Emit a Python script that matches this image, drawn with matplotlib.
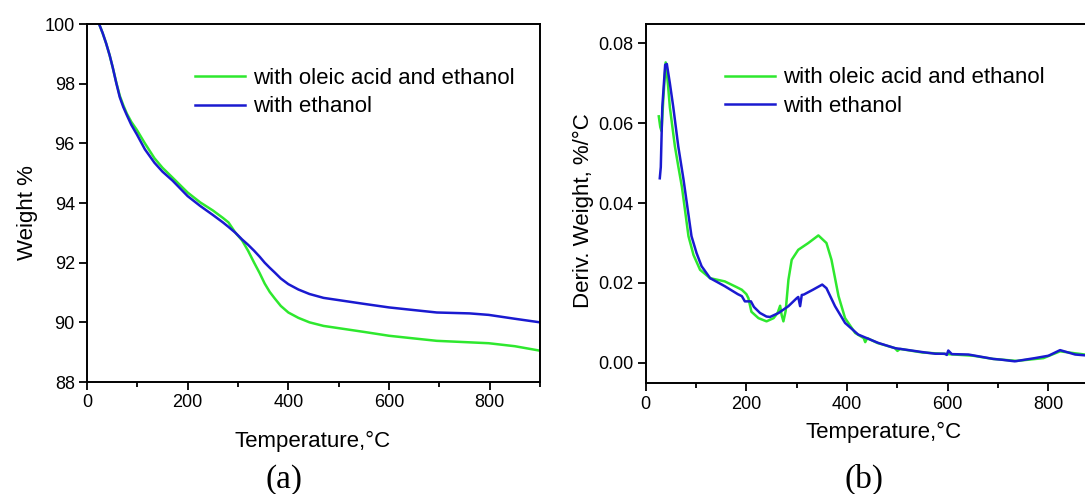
import numpy as np
import matplotlib
matplotlib.use("Agg")
from matplotlib import pyplot as plt
from matplotlib.ticker import MultipleLocator, FormatStrFormatter

plt.rcParams['font.family'] = ['Liberation Sans', 'DejaVu Sans']

# (a) TGA curves
tga_oleic_T = [24, 31, 38, 45, 51, 58, 65, 72, 79, 88, 99, 115, 134, 150, 170, 200, 225,
               250, 270, 281, 295, 308, 320, 332, 343, 353, 363, 373, 385, 400, 420, 442,
               470, 510, 550, 600, 650, 695, 760, 798, 850, 900]
tga_oleic_w = [100.0, 99.7, 99.35, 98.95, 98.55, 98.05, 97.6, 97.28, 97.0, 96.72, 96.45,
               96.0, 95.5, 95.18, 94.85, 94.35, 94.02, 93.75, 93.5, 93.35, 93.0, 92.75,
               92.4, 92.0, 91.65, 91.3, 91.02, 90.8, 90.55, 90.33, 90.15, 90.0, 89.88,
               89.78, 89.68, 89.55, 89.46, 89.38, 89.33, 89.3, 89.2, 89.05]
tga_eth_T = [24, 31, 38, 45, 51, 58, 65, 72, 79, 88, 99, 115, 134, 150, 170, 200, 225,
             250, 270, 281, 295, 308, 320, 332, 343, 353, 363, 373, 385, 400, 420, 442,
             470, 510, 550, 600, 650, 695, 760, 798, 850, 900]
tga_eth_w = [100.0, 99.7, 99.35, 98.95, 98.55, 98.03, 97.55, 97.22, 96.95, 96.62, 96.3,
             95.8, 95.35, 95.05, 94.75, 94.23, 93.9, 93.6, 93.35, 93.2, 93.0, 92.78, 92.6,
             92.4, 92.2, 92.0, 91.83, 91.67, 91.47, 91.28, 91.1, 90.95, 90.82, 90.72,
             90.62, 90.5, 90.41, 90.33, 90.3, 90.25, 90.12, 90.0]

# (b) DTG curves
dtg_oleic_T = [26, 29, 31.5, 35, 39.7, 44, 48, 58, 65, 72, 85, 95, 108, 128, 157, 180,
               191, 200, 204, 210, 224, 240, 254, 262, 267, 270, 273.5, 278, 283.5, 290,
               303, 323, 343, 359, 369, 383, 396, 416, 433, 436, 440, 460, 495, 500, 505,
               550, 600, 650, 690, 737, 790, 823, 847, 872]
dtg_oleic_d = [0.0617, 0.059, 0.058, 0.066, 0.0752, 0.070, 0.064, 0.0542, 0.049, 0.044,
               0.0317, 0.027, 0.0233, 0.0212, 0.0204, 0.019, 0.0183, 0.0172, 0.0162,
               0.0128, 0.0112, 0.0104, 0.0112, 0.0125, 0.0143, 0.012, 0.0104, 0.013,
               0.0208, 0.0258, 0.0283, 0.030, 0.0319, 0.030, 0.0258, 0.0167, 0.0112,
               0.0075, 0.0062, 0.0052, 0.0062, 0.0050, 0.0037, 0.0030, 0.0035, 0.0026,
               0.0022, 0.0018, 0.0010, 0.0005, 0.0012, 0.0029, 0.0025, 0.0021]
dtg_eth_T = [28, 30, 33, 38.7, 42, 48, 54.8, 64.7, 75, 91, 101, 111, 128, 157, 183, 191,
             197, 209, 215, 227, 240, 247, 264, 283.5, 300, 303, 306.7, 310, 314, 332,
             350.6, 359, 376, 396, 422, 462, 495, 550, 575, 594, 598, 601, 608, 641, 690,
             707, 733, 773, 800, 823, 853, 872]
dtg_eth_d = [0.0462, 0.049, 0.064, 0.0746, 0.0748, 0.070, 0.064, 0.0542, 0.046, 0.0317,
             0.0275, 0.0242, 0.0212, 0.0192, 0.0172, 0.0167, 0.0154, 0.0154, 0.014,
             0.0125, 0.0116, 0.0115, 0.0125, 0.0142, 0.0162, 0.0165, 0.0142, 0.0170,
             0.0171, 0.0183, 0.0196, 0.0187, 0.0142, 0.010, 0.0071, 0.005, 0.0037,
             0.0027, 0.0023, 0.0023, 0.0020, 0.0031, 0.0022, 0.0021, 0.0010, 0.0008,
             0.0004, 0.0012, 0.0018, 0.0032, 0.0021, 0.0019]

labels = ["with oleic acid and ethanol", "with ethanol"]
green = '#2ee82e'
blue = '#1a1ad0'


def style_axes(ax):
    for s in ax.spines.values():
        s.set_linewidth(1.4)
    ax.xaxis.set_major_locator(MultipleLocator(200))
    ax.xaxis.set_minor_locator(MultipleLocator(100))
    ax.tick_params(which='major', direction='out', length=5.8, width=1.3,
                   labelsize=13, pad=3)
    ax.tick_params(which='minor', direction='out', length=3.6, width=1.3)
    ax.tick_params(axis='y', which='minor', left=False)
    ax.set_xlabel('Temperature,°C', fontsize=16)


fig = plt.figure(figsize=(10.85, 4.94), dpi=100)

ax1 = fig.add_axes([0.0802, 0.2267, 0.4175, 0.7247])
ax1.plot(tga_oleic_T, tga_oleic_w, color=green, lw=1.8, label=labels[0])
ax1.plot(tga_eth_T, tga_eth_w, color=blue, lw=1.8, label=labels[1])
ax1.set_xlim(0, 900)
ax1.set_ylim(88, 100)
ax1.yaxis.set_major_locator(MultipleLocator(2))
style_axes(ax1)
ax1.set_ylabel('Weight %', fontsize=16)
ax1.xaxis.set_label_coords(0.497, -0.136)
ax1.yaxis.set_label_coords(-0.108, 0.472)
ax1.legend(loc='upper left', bbox_to_anchor=(0.238, 0.878), frameon=False, fontsize=16,
           handlelength=2.25, handletextpad=0.36, labelspacing=0.35, borderpad=0,
           borderaxespad=0)

ax2 = fig.add_axes([0.5951, 0.2241, 0.4049, 0.7273])
ax2.plot(dtg_oleic_T, dtg_oleic_d, color=green, lw=1.8, label=labels[0])
ax2.plot(dtg_eth_T, dtg_eth_d, color=blue, lw=1.8, label=labels[1])
ax2.set_xlim(0, 872.5)
ax2.set_ylim(-0.0051, 0.0848)
ax2.yaxis.set_major_locator(MultipleLocator(0.02))
ax2.yaxis.set_major_formatter(FormatStrFormatter('%.2f'))
style_axes(ax2)
ax2.spines['right'].set_visible(False)
ax2.set_ylabel('Deriv. Weight, %/°C', fontsize=16)
ax2.xaxis.set_label_coords(0.5425, -0.108)
ax2.yaxis.set_label_coords(-0.118, 0.48)
ax2.legend(loc='upper left', bbox_to_anchor=(0.1805, 0.879), frameon=False, fontsize=16,
           handlelength=2.25, handletextpad=0.36, labelspacing=0.35, borderpad=0,
           borderaxespad=0)

fig.text(284 / 1085, 1 - 488 / 494, '(a)', ha='center', va='baseline',
         family='Liberation Serif', fontsize=24)
fig.text(864 / 1085, 1 - 488 / 494, '(b)', ha='center', va='baseline',
         family='Liberation Serif', fontsize=24)

fig.savefig('out.png', dpi=100)
